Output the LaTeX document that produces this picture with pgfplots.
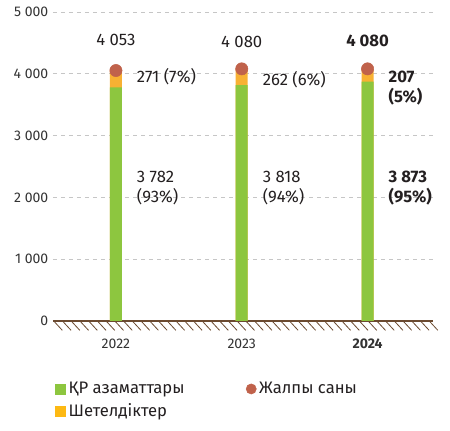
\documentclass[border=0pt]{standalone}
\usepackage{fontspec}
\setmainfont{Fira Sans}
\usepackage{pgfplots}
\pgfplotsset{compat=1.18}
\definecolor{cgreen}{HTML}{8DC63F}
\definecolor{corange}{HTML}{F8B133}
\definecolor{clegor}{HTML}{FDB913}
\definecolor{cdot}{HTML}{C0624B}
\definecolor{ctext}{HTML}{231F20}
\definecolor{ctick}{HTML}{333333}
\definecolor{cground}{HTML}{6B4A30}
\begin{document}
\begin{tikzpicture}[x=1pt,y=1pt]
\useasboundingbox (-39.75,-82.5) rectangle (297.75,240.75);
\begin{axis}[
  at={(0,0)}, anchor=south west, scale only axis,
  width=285pt, height=231.75pt,
  xmin=-0.5, xmax=2.52, ymin=0, ymax=5000,
  clip=false,
  axis x line*=bottom, axis y line*=left,
  x axis line style={draw=cground, line width=0.9pt, -},
  y axis line style={draw=none},
  major tick length=0pt,
  ytick={0,1000,2000,3000,4000,5000},
  yticklabels={0,1 000,2 000,3 000,4 000,5 000},
  xtick={0,1,2},
  xticklabels={2022,2023,\textbf{2024}},
  ticklabel style={font=\fontsize{10.5}{12}\selectfont, text=ctick},
  xticklabel style={yshift=-10pt},
  ymajorgrids,
  grid style={draw=gray!45, line width=0.6pt, dash pattern=on 3pt off 3pt},
  legend style={at={(-0.005,-0.18)}, anchor=north west, draw=none, fill=none,
    font=\fontsize{12.5}{15}\selectfont, text=ctext, row sep=2pt,
    /tikz/every even column/.append style={column sep=44pt}},
  legend columns=2, legend cell align=left,
]
\addplot[ybar, bar width=9pt, bar shift=0pt, fill=corange, draw=none, forget plot]
  coordinates {(0,4053) (1,4080) (2,4080)};
\addplot[ybar, bar width=9pt, bar shift=0pt, fill=cgreen, draw=none, forget plot]
  coordinates {(0,3782) (1,3818) (2,3873)};
\addplot[only marks, mark=*, mark size=4.6pt, color=cdot, forget plot]
  coordinates {(0,4053) (1,4080) (2,4080)};

\addlegendimage{legend image code/.code={\fill[cgreen] (0pt,-3.8pt) rectangle (7.6pt,3.8pt);}}
\addlegendentry{ҚР азаматтары}
\addlegendimage{legend image code/.code={\fill[cdot] (3.8pt,0pt) circle (3.8pt);}}
\addlegendentry{Жалпы саны}
\addlegendimage{legend image code/.code={\fill[clegor] (0pt,-3.8pt) rectangle (7.6pt,3.8pt);}}
\addlegendentry{Шетелдіктер}

\begin{scope}[font=\fontsize{12.5}{15}\selectfont, text=ctext]
\node at (axis cs:0,4540) {4 053};
\node at (axis cs:1,4510) {4 080};
\node at (axis cs:2,4540) {\textbf{4 080}};
\node[anchor=west] at (axis cs:0.13,3950) {271 (7\%)};
\node[anchor=west] at (axis cs:1.13,3905) {262 (6\%)};
\node[anchor=west, align=left] at (axis cs:2.13,3770) {\textbf{207}\\\textbf{(5\%)}};
\node[anchor=west, align=left] at (axis cs:0.13,2150) {3 782\\(93\%)};
\node[anchor=west, align=left] at (axis cs:1.13,2150) {3 818\\(94\%)};
\node[anchor=west, align=left] at (axis cs:2.13,2150) {\textbf{3 873}\\\textbf{(95\%)}};
\end{scope}
\end{axis}
\foreach \i in {0,...,43} \draw[cground, line width=0.6pt] ({\i*6.55+1},-0.5) -- ++(6,-6.5);
\end{tikzpicture}
\end{document}
